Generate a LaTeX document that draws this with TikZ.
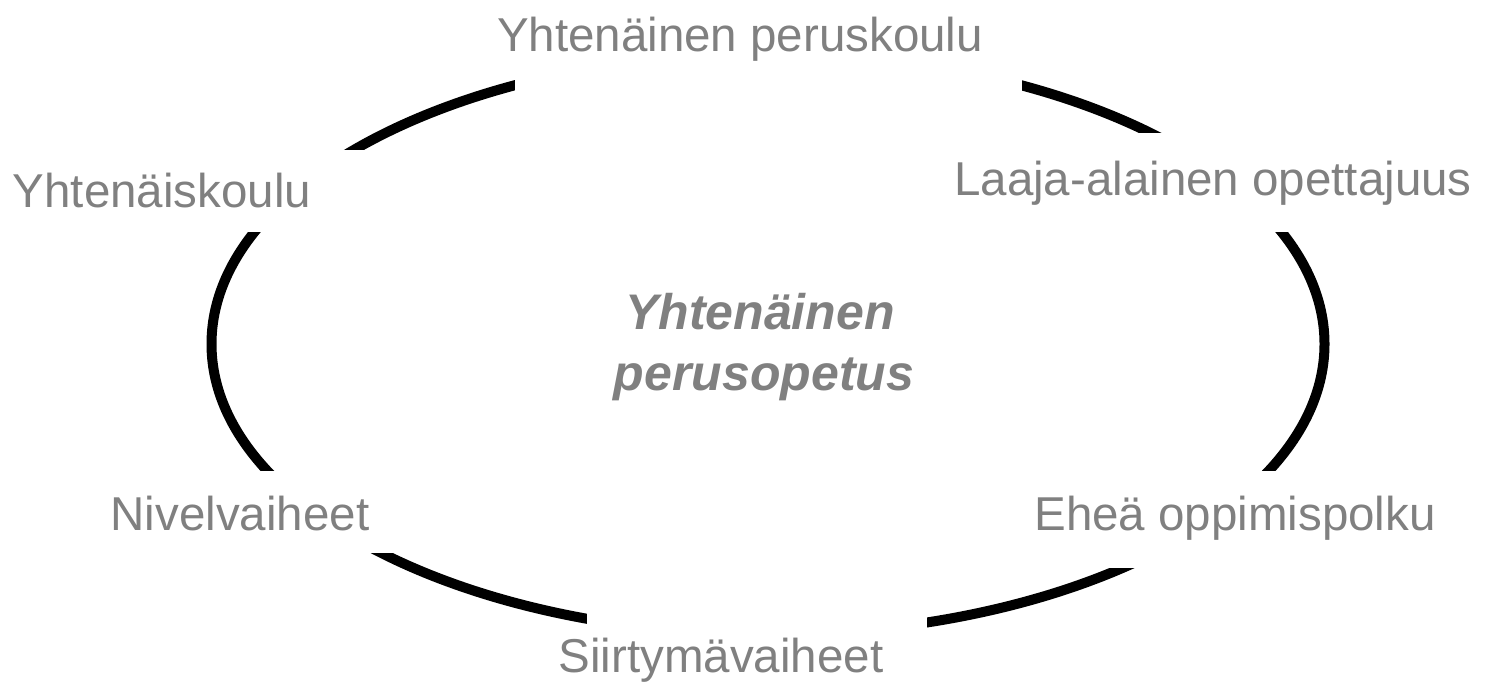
\documentclass[tikz,border=0pt]{standalone}
\usepackage{fontspec}
\setmainfont{Liberation Sans}
\definecolor{labelgray}{RGB}{128,128,128}
\begin{document}
\begin{tikzpicture}[x=1pt,y=-1pt,
  lbl/.style={anchor=base,text=labelgray,inner sep=0pt,font=\fontsize{47.5}{57}\selectfont},
  mid/.style={anchor=base,text=labelgray,inner sep=0pt,font=\fontsize{50}{60}\selectfont\bfseries\itshape},
  cut/.style={fill=white,draw=none}]
\useasboundingbox (0,0) rectangle (1485,684);
% ring
\draw[line width=10pt] (768,344) ellipse [x radius=556.5, y radius=290.5];
% gaps where the labels sit
\fill[cut] (515,0) rectangle (1022,140);
\fill[cut] (0,150) rectangle (600,232);
\fill[cut] (1000,133) rectangle (1485,232);
\fill[cut] (0,471) rectangle (600,553);
\fill[cut] (1000,471) rectangle (1485,568);
\fill[cut] (587,600) rectangle (927,684);
% labels
\node[lbl] (top) at (740,52) {Yhtenäinen peruskoulu};
\node[lbl] (tl) at (162,208) {Yhtenäiskoulu};
\node[lbl] (tr) at (1213,196) {Laaja-alainen opettajuus};
\node[lbl] (bl) at (240,530) {Nivelvaiheet};
\node[lbl] (br) at (1235,530) {Eheä oppimispolku};
\node[lbl] (bot) at (721,672) {Siirtymävaiheet};
\node[mid] (c1) at (760,330) {Yhtenäinen};
\node[mid] (c2) at (764,390) {perusopetus};
\end{tikzpicture}
\end{document}
